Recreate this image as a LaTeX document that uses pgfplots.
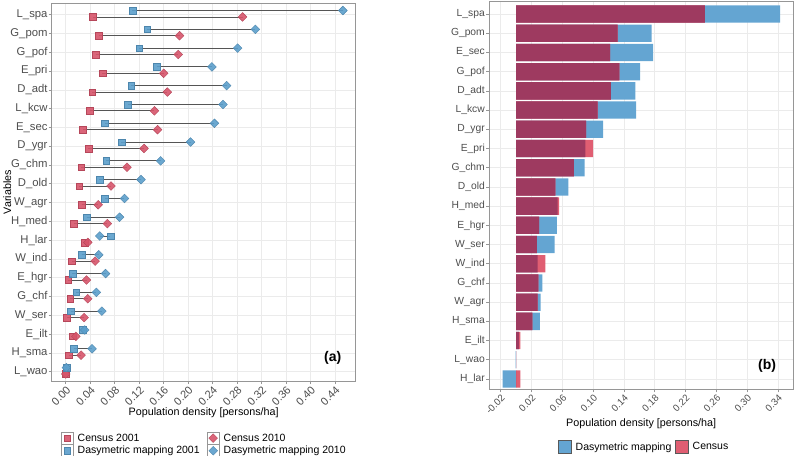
\documentclass[border=0pt]{standalone}
\usepackage{pgfplots}
\pgfplotsset{compat=1.18}
\usepackage{pgfplotstable}
\usepackage{fontspec}
\setmainfont{Liberation Sans}

\definecolor{cred}{RGB}{214,84,106}
\definecolor{cblue}{RGB}{91,158,203}
\definecolor{bred}{RGB}{224,94,114}
\definecolor{bblue}{RGB}{100,165,210}
\definecolor{bmaroon}{RGB}{158,58,96}
\definecolor{gridc}{RGB}{235,235,235}
\definecolor{framec}{RGB}{150,150,150}
\definecolor{tickc}{RGB}{77,77,77}
\definecolor{segc}{RGB}{85,85,85}

% left: 2001 and 2010 values, rows from bottom (L_wao) to top (L_spa)
\pgfplotstableread{
y c01 c10 d01 d10
0 0.000 0.000 0.0015 0.0010
1 0.005 0.025 0.013 0.043
2 0.011 0.0165 0.0275 0.031
3 0.002 0.030 0.008 0.059
4 0.007 0.036 0.017 0.050
5 0.004 0.034 0.011 0.065
6 0.010 0.048 0.026 0.054
7 0.031 0.036 0.073 0.0555
8 0.013 0.068 0.034 0.088
9 0.026 0.053 0.064 0.096
10 0.022 0.074 0.055 0.123
11 0.025 0.100 0.066 0.155
12 0.037 0.128 0.091 0.204
13 0.028 0.150 0.064 0.243
14 0.039 0.145 0.101 0.257
15 0.043 0.166 0.107 0.263
16 0.060 0.160 0.149 0.239
17 0.049 0.184 0.120 0.281
18 0.054 0.186 0.133 0.310
19 0.044 0.289 0.109 0.453
}\leftdata

% right: change 2001-2010, d = dasymetric, c = census, o = shared part
\pgfplotstableread{
y d c o
0 -0.0175 0.0055 0
1 -0.0006 0.0000 0
2 0.0035 0.0055 0.0035
3 0.031 0.021 0.021
4 0.032 0.028 0.028
5 0.034 0.029 0.029
6 0.028 0.038 0.028
7 0.050 0.027 0.027
8 0.053 0.030 0.030
9 0.054 0.056 0.054
10 0.068 0.051 0.051
11 0.089 0.075 0.075
12 0.090 0.100 0.090
13 0.113 0.091 0.091
14 0.156 0.106 0.106
15 0.155 0.123 0.123
16 0.161 0.134 0.134
17 0.178 0.122 0.122
18 0.176 0.132 0.132
19 0.343 0.245 0.245
}\rightdata

\pgfplotsset{
  panel/.style={
    scale only axis, anchor=south west,
    tick pos=left, tick align=outside, major tick length=3bp,
    axis line style={framec, line width=0.7bp},
    tick style={framec, line width=0.6bp},
    grid=major, major grid style={gridc, line width=0.6bp},
    ytick={0,...,19},
    ticklabel style={text=tickc},
    yticklabel style={inner sep=1bp},
    xticklabel style={rotate=45, anchor=north east, inner sep=1bp},
    /pgf/number format/.cd, fixed, fixed zerofill, precision=2, assume math mode=true,
  },
}

\begin{document}
\begin{tikzpicture}
\useasboundingbox (0,0) rectangle (795bp,456bp);

\begin{axis}[panel,
  at={(51.7bp,75bp)}, width=304bp, height=378bp,
  xmin=-0.023, xmax=0.474, ymin=-0.495, ymax=19.62,
  xtick={0,0.04,0.08,0.12,0.16,0.20,0.24,0.28,0.32,0.36,0.40,0.44},
  yticklabels={L\_wao,H\_sma,E\_ilt,W\_ser,G\_chf,E\_hgr,W\_ind,H\_lar,H\_med,W\_agr,D\_old,G\_chm,D\_ygr,E\_sec,L\_kcw,D\_adt,E\_pri,G\_pof,G\_pom,L\_spa},
  yticklabel style={font=\fontsize{11.3bp}{13bp}\selectfont},
  xticklabel style={font=\fontsize{11bp}{13bp}\selectfont},
  xlabel={Population density [persons/ha]},
  xlabel style={at={(axis description cs:0.5,0)}, anchor=center, yshift=-31.7bp, font=\fontsize{10.75bp}{12bp}\selectfont},
  ylabel={Variables},
  ylabel style={at={(axis description cs:0,0.5)}, anchor=center, yshift=44.5bp, font=\fontsize{10.75bp}{12bp}\selectfont},
  legend columns=2,
  legend cell align=left,
  legend style={at={(0.0296,-0.134)}, anchor=north west, draw=none, fill=none, inner sep=0pt,
    row sep=0pt, font=\fontsize{10.5bp}{12bp}\selectfont,
    nodes={inner sep=1.2bp},
    /tikz/every odd column/.append style={column sep=3bp},
    /tikz/every even column/.append style={column sep=6bp}},
  legend image code/.code={
    \draw[framec, line width=0.6bp, fill=white] (0bp,-6bp) rectangle (12bp,6bp);
    \draw[#1] plot coordinates {(6bp,0bp)};},
]
\addplot[forget plot, mark=none, segc, line width=0.8bp,
  quiver={u=\thisrow{d10}-\thisrow{d01}, v=0}]
  table[x=d01, y expr=\thisrow{y}+0.22]{\leftdata};
\addplot[forget plot, mark=none, segc, line width=0.8bp,
  quiver={u=\thisrow{c10}-\thisrow{c01}, v=0}]
  table[x=c01, y expr=\thisrow{y}-0.12]{\leftdata};

\addplot[only marks, mark=square*, mark size=3.3bp,
  mark options={fill=cred, draw=cred!85!black, fill opacity=0.9}]
  table[x=c01, y expr=\thisrow{y}-0.12]{\leftdata};
\addlegendentry{Census 2001}
\addplot[only marks, mark=square*, mark size=3.1bp,
  mark options={rotate=45, fill=cred, draw=cred!85!black, fill opacity=0.9}]
  table[x=c10, y expr=\thisrow{y}-0.12]{\leftdata};
\addlegendentry{Census 2010}
\addplot[only marks, mark=square*, mark size=3.3bp,
  mark options={fill=cblue, draw=cblue!85!black, fill opacity=0.9}]
  table[x=d01, y expr=\thisrow{y}+0.22]{\leftdata};
\addlegendentry{Dasymetric mapping 2001}
\addplot[only marks, mark=square*, mark size=3.1bp,
  mark options={rotate=45, fill=cblue, draw=cblue!85!black, fill opacity=0.9}]
  table[x=d10, y expr=\thisrow{y}+0.22]{\leftdata};
\addlegendentry{Dasymetric mapping 2010}

\node[font=\bfseries\fontsize{14bp}{16bp}\selectfont] at (axis cs:0.4365,0.73) {(a)};
\end{axis}

\begin{axis}[panel,
  at={(489bp,66.7bp)}, width=304.3bp, height=388.3bp,
  xmin=-0.0352, xmax=0.360, ymin=-0.536, ymax=19.68,
  xtick={-0.02,0.02,0.06,0.10,0.14,0.18,0.22,0.26,0.30,0.34},
  yticklabels={H\_lar,L\_wao,E\_ilt,H\_sma,W\_agr,G\_chf,W\_ind,W\_ser,E\_hgr,H\_med,D\_old,G\_chm,E\_pri,D\_ygr,L\_kcw,D\_adt,G\_pof,E\_sec,G\_pom,L\_spa},
  yticklabel style={font=\fontsize{10.3bp}{12bp}\selectfont},
  xticklabel style={font=\fontsize{9.7bp}{11bp}\selectfont},
  xlabel={Population density [persons/ha]},
  xlabel style={at={(axis description cs:0.5,0)}, anchor=center, yshift=-34bp, font=\fontsize{10.75bp}{12bp}\selectfont},
  legend columns=-1,
  legend style={at={(0.508,-0.1486)}, anchor=center, draw=none, fill=none, inner sep=0pt,
    font=\fontsize{10.5bp}{12bp}\selectfont,
    nodes={inner sep=1.2bp},
    /tikz/every odd column/.append style={column sep=3bp},
    /tikz/every even column/.append style={column sep=2bp}},
  legend image code/.code={
    \draw[#1, draw=black!65, line width=0.6bp] (0bp,-6.3bp) rectangle (13.3bp,6.3bp);},
]
\addplot[xbar, bar width=0.9, bar shift=0pt, fill=bblue, draw=none]
  table[x=d, y=y]{\rightdata};
\addlegendentry{Dasymetric mapping}
\addplot[xbar, bar width=0.9, bar shift=0pt, fill=bred, draw=none]
  table[x=c, y=y]{\rightdata};
\addlegendentry{Census}
\addplot[forget plot, xbar, bar width=0.9, bar shift=0pt, fill=bmaroon, draw=none]
  table[x=o, y=y]{\rightdata};

\node[font=\bfseries\fontsize{14bp}{16bp}\selectfont] at (axis cs:0.326,0.69) {(b)};
\end{axis}
\end{tikzpicture}
\end{document}
